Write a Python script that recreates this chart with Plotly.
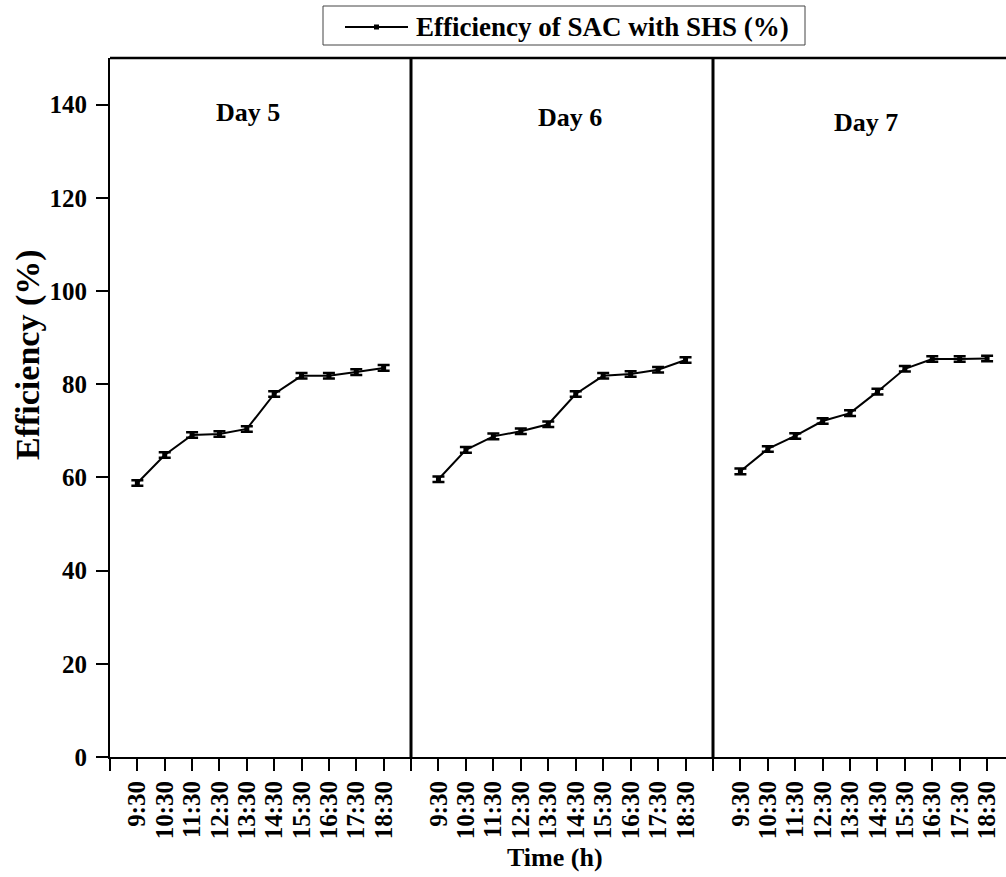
import plotly.graph_objects as go

times = ["9:30", "10:30", "11:30", "12:30", "13:30", "14:30", "15:30", "16:30", "17:30", "18:30"]
day5 = [58.8, 64.8, 69.1, 69.3, 70.4, 77.9, 81.8, 81.8, 82.6, 83.5]
day6 = [59.6, 65.9, 68.8, 69.9, 71.4, 77.9, 81.8, 82.2, 83.1, 85.2]
day7 = [61.3, 66.1, 68.9, 72.1, 73.8, 78.4, 83.3, 85.4, 85.4, 85.5]
err5 = [0.6] * 10
err6 = [0.6] * 10
err7 = [0.6] * 10
day_labels = ["Day 5", "Day 6", "Day 7"]
y_ticks = [0, 20, 40, 60, 80, 100, 120, 140]
legend_label = "Efficiency of SAC with SHS (%)"

FONT = "Liberation Serif, Times New Roman, serif"
W, H = 1006, 877
ML, MT, MB, MR = 110, 58, 120, 0
PW = W - ML - MR
PH = H - MT - MB


def px_x(p):
    return (p - ML) / PW


def px_y(p):
    return (MT + PH - p) / PH


b1 = px_x(411)
b2 = px_x(713)

fig = go.Figure()
idx = list(range(len(times)))
series = [(day5, err5, "x"), (day6, err6, "x2"), (day7, err7, "x3")]
for vals, errs, xa in series:
    fig.add_trace(go.Scatter(
        x=idx, y=vals, xaxis=xa, yaxis="y", mode="lines+markers",
        name=legend_label, showlegend=False,
        line=dict(color="black", width=2),
        marker=dict(symbol="square", size=5, color="black"),
        error_y=dict(type="data", array=errs, visible=True, color="black",
                     thickness=2.5, width=6),
    ))

tickvals = list(range(-1, 11))
ticktext = [""] + times + [""]
axis_common = dict(
    tickmode="array", tickvals=tickvals, ticktext=ticktext, tickangle=-90,
    ticks="outside", ticklen=12, tickwidth=2, tickcolor="black",
    showline=True, linewidth=2, linecolor="black", showgrid=False, zeroline=False,
    tickfont=dict(family=FONT, size=25, color="black", weight="bold"),
    anchor="y",
)
fig.update_layout(
    xaxis=dict(domain=[0, b1], range=[-1, 10], **axis_common),
    xaxis2=dict(domain=[b1, b2], range=[-1, 10], **axis_common),
    xaxis3=dict(domain=[b2, 1], range=[-1, 9.69], **axis_common),
    yaxis=dict(range=[0, 150], tickvals=y_ticks, ticks="outside", ticklen=12, tickwidth=2,
               tickcolor="black", showline=True, linewidth=2, linecolor="black",
               showgrid=False, zeroline=False, anchor="x", ticklabelstandoff=4,
               tickfont=dict(family=FONT, size=25, color="black", weight="bold")),
    width=W, height=H,
    margin=dict(l=ML, r=MR, t=MT, b=MB, autoexpand=False),
    plot_bgcolor="white", paper_bgcolor="white",
    showlegend=False,
)

# frame: top line and panel dividers
fig.add_shape(type="line", xref="paper", yref="paper", x0=0, x1=1, y0=1, y1=1,
              line=dict(color="black", width=2.5))
for bx in (b1, b2):
    fig.add_shape(type="line", xref="paper", yref="paper", x0=bx, x1=bx, y0=0, y1=1,
                  line=dict(color="black", width=3))

# legend box (drawn manually)
fig.add_shape(type="rect", xref="paper", yref="paper",
              x0=px_x(323), x1=px_x(805), y0=px_y(45), y1=px_y(6),
              line=dict(color="#444444", width=1), fillcolor="white")
fig.add_shape(type="line", xref="paper", yref="paper",
              x0=px_x(345), x1=px_x(408), y0=px_y(27), y1=px_y(27),
              line=dict(color="black", width=2))
fig.add_shape(type="rect", xref="paper", yref="paper",
              x0=px_x(374), x1=px_x(379), y0=px_y(29.5), y1=px_y(24.5),
              line=dict(color="black", width=0), fillcolor="black")
fig.add_annotation(text=legend_label, xref="paper", yref="paper",
                   x=px_x(414), y=px_y(27), xanchor="left", yanchor="middle",
                   showarrow=False,
                   font=dict(family=FONT, size=27, color="black", weight="bold"))

# day labels
day_pos = [("x", 4.04, 138.3), ("x2", 4.8, 137.2), ("x3", 4.58, 136.1)]
for lab, (xa, xv, yv) in zip(day_labels, day_pos):
    fig.add_annotation(text=lab, xref=xa, yref="y", x=xv, y=yv, showarrow=False,
                       xanchor="center", yanchor="middle",
                       font=dict(family=FONT, size=26, color="black", weight="bold"))

# axis titles
fig.add_annotation(text="Time (h)", xref="paper", yref="paper",
                   x=px_x(555), y=px_y(858), xanchor="center", yanchor="middle",
                   showarrow=False,
                   font=dict(family=FONT, size=26, color="black", weight="bold"))
fig.add_annotation(text="Efficiency (%)", xref="paper", yref="paper",
                   x=px_x(28), y=px_y(355), xanchor="center", yanchor="middle",
                   showarrow=False, textangle=-90,
                   font=dict(family=FONT, size=34, color="black", weight="bold"))

fig.write_html("out.html")
